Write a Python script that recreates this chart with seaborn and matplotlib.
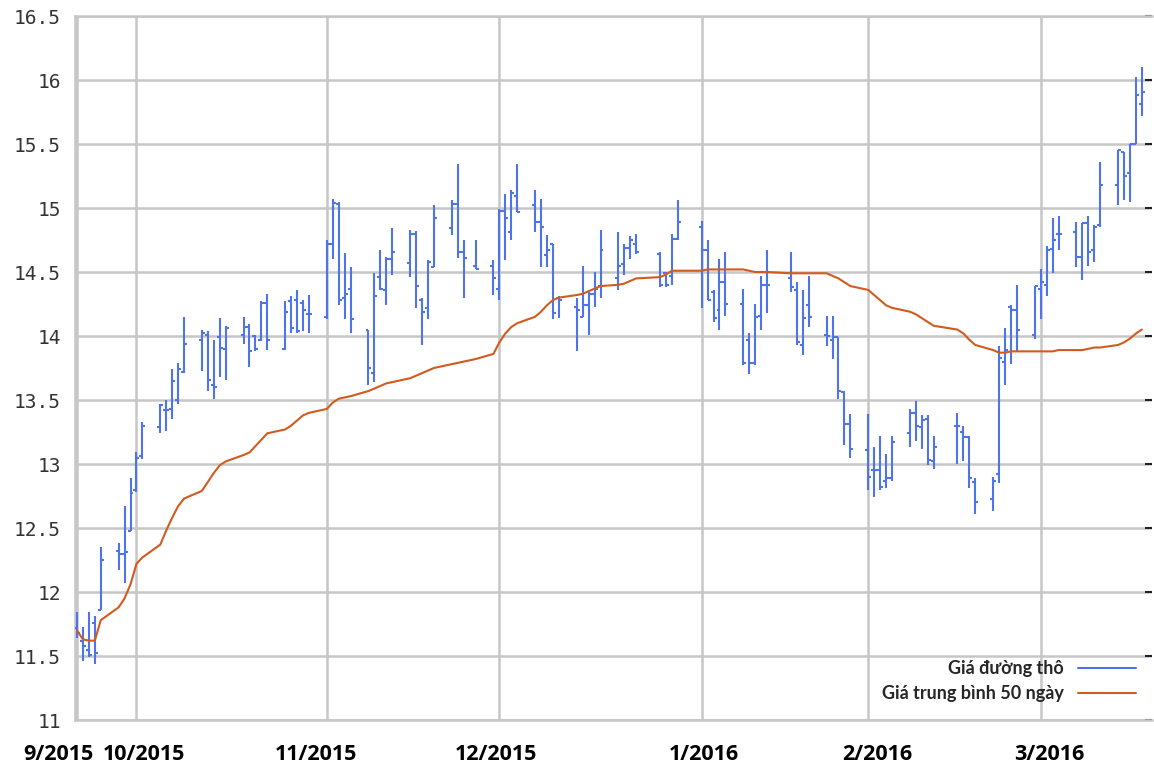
import pandas as pd
import seaborn as sns
import matplotlib.pyplot as plt
import matplotlib.dates as mdates
from matplotlib.lines import Line2D

sns.set_style("white")

# trading days shown (weekdays minus exchange holidays)
holidays = ["2015-11-26", "2015-12-25", "2016-01-01", "2016-01-18", "2016-02-15"]
days = pd.bdate_range("2015-09-21", "2016-03-18")
days = days[~days.isin(pd.to_datetime(holidays))]

# raw sugar daily bars (US cents/lb), read week by week
opens = [11.72, 11.62, 11.55, 11.76, 11.86,
         12.32, 12.30, 12.48, 12.80, 13.06,
         13.29, 13.42, 13.43, 13.50, 13.72,
         13.97, 14.01, 13.62, 13.99, 13.90,
         14.01, 14.07, 14.00, 13.97, 14.26,
         13.90, 14.27, 14.28, 14.26, 14.17,
         14.15, 14.72, 15.03, 14.30, 14.37,
         14.05, 13.71, 14.46, 14.36, 14.60,
         14.57, 14.80, 14.28, 14.22, 14.54,
         14.84, 15.03, 14.66, 14.55,
         14.55, 14.37, 14.98, 14.81, 15.09,
         15.02, 14.89, 14.63, 14.72, 14.30,
         14.23, 14.15, 14.24, 14.33, 14.39,
         14.45, 14.56, 14.69, 14.72,
         14.64, 14.49, 14.47, 14.76,
         14.85, 14.67, 14.34, 14.20, 14.42,
         14.25, 13.97, 13.79, 14.16, 14.40,
         14.45, 14.36, 13.93, 14.24,
         14.01, 13.97, 13.99, 13.56, 13.31,
         13.11, 12.95, 12.95, 12.87, 12.89,
         13.24, 13.40, 13.29, 13.35, 13.02,
         13.30, 13.25, 13.21, 12.86,
         12.73, 12.92, 13.80, 14.23, 14.20,
         14.01, 14.37, 14.40, 14.68, 14.80,
         14.81, 14.62, 14.88, 14.67, 14.87,
         15.18, 15.44, 15.27, 15.50, 15.81]
highs = [11.84, 11.73, 11.84, 11.81, 12.35,
         12.38, 12.67, 12.89, 13.09, 13.33,
         13.47, 13.50, 13.74, 13.79, 14.15,
         14.05, 14.04, 13.97, 14.14, 14.08,
         14.15, 14.09, 14.01, 14.27, 14.33,
         14.27, 14.31, 14.36, 14.28, 14.32,
         14.75, 15.07, 15.05, 14.65, 14.54,
         14.05, 14.49, 14.67, 14.62, 14.84,
         14.83, 14.82, 14.30, 14.59, 15.02,
         15.06, 15.34, 14.75, 14.75,
         14.59, 14.99, 15.11, 15.14, 15.34,
         15.14, 15.07, 14.79, 14.72, 14.31,
         14.30, 14.55, 14.34, 14.50, 14.83,
         14.81, 14.72, 14.78, 14.80,
         14.66, 14.50, 14.80, 15.06,
         14.90, 14.75, 14.36, 14.60, 14.66,
         14.37, 14.02, 14.25, 14.47, 14.67,
         14.66, 14.42, 14.36, 14.47,
         14.16, 14.16, 13.99, 13.57, 13.39,
         13.39, 13.13, 13.22, 13.08, 13.22,
         13.43, 13.49, 13.38, 13.38, 13.22,
         13.40, 13.30, 13.22, 12.89,
         12.90, 13.92, 14.06, 14.24, 14.40,
         14.39, 14.52, 14.70, 14.92, 14.94,
         14.89, 14.88, 14.94, 14.87, 15.36,
         15.45, 15.44, 15.50, 16.02, 16.10]
lows = [11.64, 11.46, 11.49, 11.44, 11.86,
        12.17, 12.07, 12.48, 12.78, 13.04,
        13.24, 13.26, 13.35, 13.47, 13.71,
        13.73, 13.57, 13.51, 13.68, 13.66,
        13.94, 13.76, 13.88, 13.96, 13.89,
        13.89, 14.02, 14.02, 14.04, 14.02,
        14.13, 14.60, 14.24, 14.13, 14.02,
        13.62, 13.64, 14.36, 14.24, 14.48,
        14.46, 14.22, 13.93, 14.13, 14.54,
        14.79, 14.61, 14.30, 14.52,
        14.32, 14.28, 14.59, 14.75, 14.97,
        14.81, 14.54, 14.54, 14.13, 14.14,
        13.88, 14.15, 14.01, 14.23, 14.30,
        14.36, 14.48, 14.60, 14.64,
        14.38, 14.38, 14.40, 14.75,
        14.22, 14.28, 14.11, 14.05, 14.16,
        13.77, 13.70, 13.77, 14.05, 14.18,
        14.34, 13.93, 13.85, 14.07,
        13.92, 13.82, 13.51, 13.15, 13.05,
        12.80, 12.74, 12.80, 12.81, 12.87,
        13.13, 13.18, 13.12, 12.99, 12.96,
        13.00, 13.02, 12.81, 12.61,
        12.63, 12.85, 13.62, 13.78, 13.88,
        13.98, 14.13, 14.31, 14.49, 14.67,
        14.54, 14.44, 14.55, 14.58, 14.85,
        15.02, 15.06, 15.05, 15.50, 15.72]
closes = [11.68, 11.58, 11.51, 11.52, 12.25,
          12.30, 12.31, 12.77, 13.05, 13.30,
          13.46, 13.42, 13.65, 13.74, 13.94,
          14.02, 13.66, 13.60, 13.91, 14.06,
          14.07, 13.88, 13.90, 14.26, 13.97,
          14.19, 14.06, 14.04, 14.20, 14.17,
          14.72, 15.04, 14.28, 14.33, 14.13,
          13.75, 14.31, 14.37, 14.60, 14.66,
          14.80, 14.39, 14.19, 14.58, 14.92,
          15.03, 14.66, 14.61, 14.52,
          14.45, 14.98, 14.92, 15.12, 14.97,
          14.89, 14.85, 14.67, 14.18, 14.28,
          14.20, 14.24, 14.33, 14.37, 14.67,
          14.55, 14.69, 14.75, 14.66,
          14.40, 14.40, 14.76, 14.89,
          14.67, 14.28, 14.14, 14.42, 14.25,
          13.79, 13.79, 14.15, 14.40, 14.40,
          14.38, 13.95, 14.14, 14.15,
          14.00, 13.99, 13.57, 13.31, 13.12,
          12.90, 12.95, 12.82, 12.89, 13.17,
          13.40, 13.30, 13.34, 13.03, 13.13,
          13.30, 13.21, 12.89, 12.70,
          12.87, 13.83, 13.89, 14.20, 14.05,
          14.39, 14.42, 14.67, 14.75, 14.80,
          14.62, 14.88, 14.66, 14.85, 15.18,
          15.45, 15.25, 15.50, 15.88, 15.91]
# 50-day moving average as drawn
ma50 = [11.70, 11.63, 11.62, 11.62, 11.78,
        11.88, 11.95, 12.06, 12.22, 12.27,
        12.37, 12.48, 12.58, 12.67, 12.73,
        12.79, 12.86, 12.93, 12.99, 13.02,
        13.07, 13.09, 13.14, 13.19, 13.24,
        13.27, 13.30, 13.34, 13.38, 13.40,
        13.43, 13.48, 13.51, 13.52, 13.53,
        13.57, 13.59, 13.61, 13.63, 13.64,
        13.67, 13.69, 13.71, 13.73, 13.75,
        13.78, 13.79, 13.80, 13.82,
        13.86, 13.95, 14.02, 14.07, 14.10,
        14.15, 14.19, 14.24, 14.28, 14.30,
        14.32, 14.33, 14.35, 14.37, 14.39,
        14.40, 14.41, 14.43, 14.45,
        14.46, 14.48, 14.51, 14.51,
        14.51, 14.52, 14.52, 14.52, 14.52,
        14.52, 14.51, 14.50, 14.50, 14.50,
        14.49, 14.49, 14.49, 14.49,
        14.49, 14.47, 14.45, 14.42, 14.39,
        14.36, 14.32, 14.28, 14.24, 14.22,
        14.19, 14.17, 14.14, 14.11, 14.08,
        14.05, 14.02, 13.97, 13.93,
        13.89, 13.87, 13.87, 13.88, 13.88,
        13.88, 13.88, 13.88, 13.88, 13.89,
        13.89, 13.89, 13.90, 13.91, 13.91,
        13.93, 13.95, 13.98, 14.02, 14.05]

tick_dates = ["2015-09-21", "2015-10-01", "2015-11-02", "2015-12-01",
              "2016-01-04", "2016-02-01", "2016-03-01"]
tick_labels = ["9/2015", "10/2015", "11/2015", "12/2015", "1/2016", "2/2016", "3/2016"]
# small horizontal nudges (px) so the labels sit where the reference has them
label_shift = [-19, 8, -11, -3, 2, 9, 9]

df = pd.DataFrame({"date": days, "open": opens, "high": highs,
                   "low": lows, "close": closes, "ma50": ma50})

blue = "#4d74ea"
orange = "#d25a1e"
grid_c = "#c6c6c6"

fig = plt.figure(figsize=(11.54, 7.73), dpi=100)
ax = fig.add_axes([75 / 1154, 1 - 720 / 773, 1077 / 1154, 704 / 773])

x = mdates.date2num(df["date"])
half = 0.5
ax.vlines(x, df["low"], df["high"], color=blue, lw=1.5, zorder=3)
ax.hlines(df["open"], x - half, x, color=blue, lw=1.5, zorder=3)
ax.hlines(df["close"], x, x + half, color=blue, lw=1.5, zorder=3)

sns.lineplot(data=df, x="date", y="ma50", color=orange, lw=1.5, ax=ax, zorder=4)

start = mdates.date2num(pd.Timestamp("2015-09-21"))
ax.set_xlim(start - 0.33, start + 180.7)
ax.set_ylim(11, 16.5)
ax.set_yticks([11, 11.5, 12, 12.5, 13, 13.5, 14, 14.5, 15, 15.5, 16, 16.5])
ax.set_yticklabels(["11", "11.5", "12", "12.5", "13", "13.5", "14", "14.5",
                    "15", "15.5", "16", "16.5"], family="DejaVu Sans Mono",
                   fontsize=14, color="#333333")

# month ticks; labels drawn as annotations so they can be nudged
tick_x = mdates.date2num(pd.to_datetime(tick_dates))
ax.set_xticks(tick_x)
ax.set_xticklabels([])
for tx, lab, dx in zip(tick_x, tick_labels, label_shift):
    ax.annotate(lab, xy=(tx, 0), xycoords=("data", "axes fraction"),
                xytext=(dx, -35), textcoords="offset pixels",
                ha="center", va="center", family="Open Sans",
                fontweight="bold", fontsize=15.5, color="black",
                annotation_clip=False)

ax.grid(True, color=grid_c, lw=1.8)
ax.set_axisbelow(True)
for side in ["left", "bottom", "top"]:
    ax.spines[side].set_color(grid_c)
    ax.spines[side].set_linewidth(1.8)
ax.spines["right"].set_visible(False)
ax.tick_params(axis="y", direction="in", length=5, width=1.5, color="#222222",
               pad=10, right=True)
ax.tick_params(axis="x", direction="in", length=5, width=1.5, color="#222222")
ax.set_xlabel("")
ax.set_ylabel("")

handles = [Line2D([], [], color=blue, lw=1.5), Line2D([], [], color=orange, lw=1.5)]
ax.legend(handles, ["Giá đường thô", "Giá trung bình 50 ngày"], loc="lower right",
          bbox_to_anchor=(1.0, 0.002), markerfirst=False, frameon=False,
          handlelength=3.2, handletextpad=0.8, labelspacing=0.45,
          prop={"family": "Lato", "weight": "bold", "size": 13})

fig.savefig("out.png", dpi=100)
